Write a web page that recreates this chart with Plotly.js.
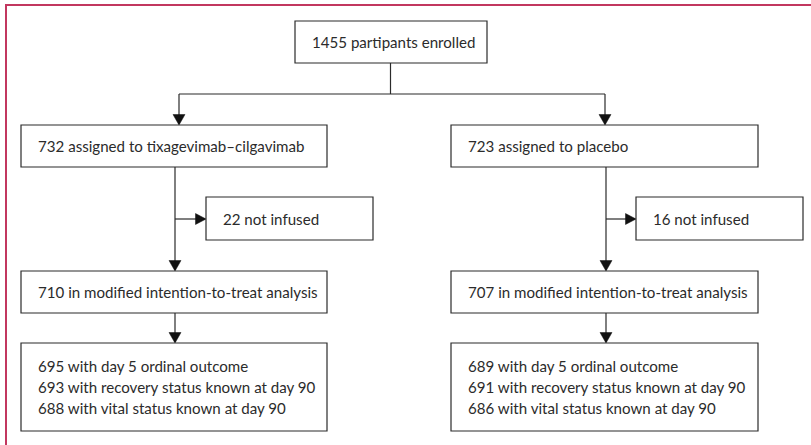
<!DOCTYPE html>
<html>
<head>
<meta charset="utf-8">
<script src="https://cdn.plot.ly/plotly-3.0.1.min.js"></script>
<style>html,body{margin:0;padding:0;background:#fff;}#chart{width:811px;height:445px;}</style>
</head>
<body>
<div id="chart"></div>
<script>
// ---- data ----
const enrolled = 1455;
const armNames = ['tixagevimab–cilgavimab', 'placebo'];
const assigned = [732, 723];
const notInfused = [22, 16];
const mitt = [710, 707];
const day5Ordinal = [695, 689];
const recoveryDay90 = [693, 691];
const vitalDay90 = [688, 686];

// ---- layout geometry (pixel units of the 811x445 canvas) ----
const G = {
  top: {x0: 295, x1: 487, y0: 21, y1: 63},
  splitY: 94,
  arms: [
    {x0: 21, x1: 327, arrowX: 179, stemX: 175, side: {x0: 206, x1: 373}},
    {x0: 451, x1: 758, arrowX: 605, stemX: 606, side: {x0: 636, x1: 803}}
  ],
  row2: {y0: 125, y1: 167},
  side: {y0: 197, y1: 240},
  row3: {y0: 271, y1: 313},
  row4: {y0: 343, y1: 431},
  pad: 15,
  head: 10.5
};
const lineCol = '#2b2b2b';
const textCol = '#2b2b2b';
const font = {family: 'Lato, "Open Sans", sans-serif', size: 15.1, color: textCol};

const shapes = [];
const annotations = [];

function box(b, y0, y1) {
  shapes.push({type: 'rect', xref: 'x', yref: 'y', x0: b.x0, x1: b.x1, y0: y0, y1: y1,
    line: {color: lineCol, width: 1.2}, fillcolor: 'rgba(0,0,0,0)'});
}
function line(x0, y0, x1, y1) {
  shapes.push({type: 'line', xref: 'x', yref: 'y', x0, y0, x1, y1, line: {color: lineCol, width: 1.2}});
}
function headDown(x, y) {
  const h = G.head, w = 6;
  shapes.push({type: 'path', xref: 'x', yref: 'y',
    path: `M${x - w},${y - h} L${x + w},${y - h} L${x},${y} Z`,
    fillcolor: '#111', line: {color: '#111', width: 0.5}});
}
function headRight(x, y) {
  const h = G.head, w = 5.5;
  shapes.push({type: 'path', xref: 'x', yref: 'y',
    path: `M${x - h},${y - w} L${x - h},${y + w} L${x},${y} Z`,
    fillcolor: '#111', line: {color: '#111', width: 0.5}});
}
function label(x, y, text) {
  annotations.push({xref: 'x', yref: 'y', x: x, y: y, text: text, showarrow: false,
    xanchor: 'left', yanchor: 'middle', align: 'left', font: font});
}

// top box
box(G.top, G.top.y0, G.top.y1);
label(G.top.x0 + G.pad, (G.top.y0 + G.top.y1) / 2, enrolled + ' partipants enrolled');
const topMid = (G.top.x0 + G.top.x1) / 2 - 0.5;
line(topMid, G.top.y1, topMid, G.splitY);
line(G.arms[0].arrowX, G.splitY, G.arms[1].arrowX, G.splitY);

G.arms.forEach((a, i) => {
  const bx = {x0: a.x0, x1: a.x1};
  // split arrow down
  line(a.arrowX, G.splitY, a.arrowX, G.row2.y0 - 1);
  headDown(a.arrowX, G.row2.y0);
  // assigned box
  box(bx, G.row2.y0, G.row2.y1);
  label(a.x0 + G.pad, (G.row2.y0 + G.row2.y1) / 2, assigned[i] + ' assigned to ' + armNames[i]);
  // stem to mITT
  line(a.stemX, G.row2.y1, a.stemX, G.row3.y0 - 1);
  headDown(a.stemX, G.row3.y0);
  // side arrow to not infused
  const sy = (G.side.y0 + G.side.y1) / 2 + 0.5;
  line(a.stemX, sy, a.side.x0 - 1, sy);
  headRight(a.side.x0, sy);
  box(a.side, G.side.y0, G.side.y1);
  label(a.side.x0 + G.pad, (G.side.y0 + G.side.y1) / 2, notInfused[i] + ' not infused');
  // mITT box
  box(bx, G.row3.y0, G.row3.y1);
  label(a.x0 + G.pad, (G.row3.y0 + G.row3.y1) / 2, mitt[i] + ' in modified intention-to-treat analysis');
  // arrow to outcomes
  line(a.stemX, G.row3.y1, a.stemX, G.row4.y0 - 1);
  headDown(a.stemX, G.row4.y0);
  box(bx, G.row4.y0, G.row4.y1);
  const lines = [
    day5Ordinal[i] + ' with day 5 ordinal outcome',
    recoveryDay90[i] + ' with recovery status known at day 90',
    vitalDay90[i] + ' with vital status known at day 90'
  ];
  const mid = (G.row4.y0 + G.row4.y1) / 2;
  lines.forEach((t, k) => label(a.x0 + G.pad, mid + (k - 1) * 21, t));
});

// frame (top and left rule)
const frameCol = '#c2375f';
shapes.push({type: 'line', xref: 'x', yref: 'y', x0: 5.5, y0: 5, x1: 811, y1: 5, line: {color: frameCol, width: 2}});
shapes.push({type: 'line', xref: 'x', yref: 'y', x0: 6, y0: 4, x1: 6, y1: 445, line: {color: frameCol, width: 2}});

const layout = {
  width: 811, height: 445,
  margin: {l: 0, r: 0, t: 0, b: 0},
  paper_bgcolor: '#fff', plot_bgcolor: '#fff',
  xaxis: {range: [0, 811], visible: false, fixedrange: true},
  yaxis: {range: [445, 0], visible: false, fixedrange: true},
  shapes: shapes,
  annotations: annotations,
  showlegend: false
};
Plotly.newPlot('chart', [], layout, {displayModeBar: false, staticPlot: true});
</script>
</body>
</html>
